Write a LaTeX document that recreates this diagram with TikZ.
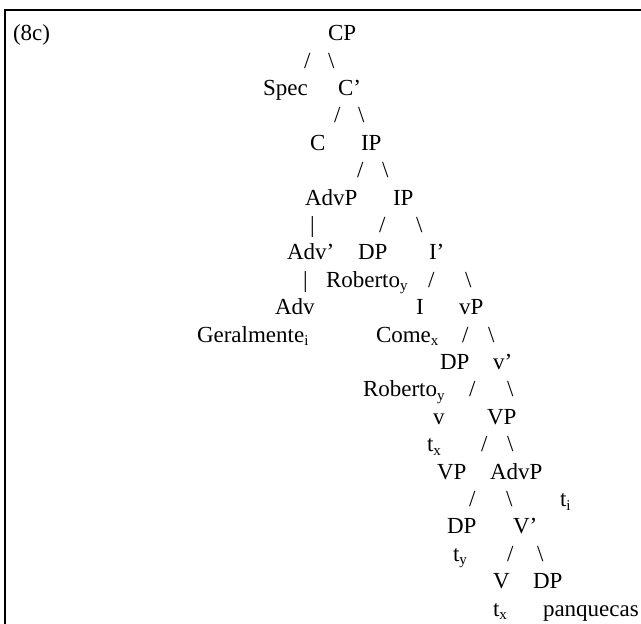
\documentclass[tikz,border=0pt]{standalone}
\usepackage{fontspec}
\setmainfont{Liberation Serif}
\newcommand{\sbs}[1]{\raisebox{-3.5pt}{\fontsize{15}{15}\selectfont #1}}
\begin{document}
\begin{tikzpicture}[x=1pt,y=-1pt,
  t/.style={anchor=base west, inner sep=0pt, outer sep=0pt, font=\fontsize{23}{27.4}\selectfont},
  frame/.style={line width=2pt, line join=miter}]
\useasboundingbox (0,0) rectangle (641,624);
\coordinate (fb) at (5,624);
\coordinate (fc) at (5,10);
\coordinate (fr) at (641,10);
\draw[frame] (fb) -- (fc) -- (fr);
% row 1
\node[t] (lab) at (13,40.7) {(8c)};
\node[t] (cp) at (328,40.7) {CP};
% row 2
\node[t] (s2a) at (304,68.1) {/};
\node[t] (s2b) at (328,68.1) {\textbackslash};
% row 3
\node[t] (spec) at (263,95.5) {Spec};
\node[t] (cbar) at (338,95.5) {C’};
% row 4
\node[t] (s4a) at (334,122.9) {/};
\node[t] (s4b) at (358,122.9) {\textbackslash};
% row 5
\node[t] (c) at (310,150.3) {C};
\node[t] (ip1) at (361,150.3) {IP};
% row 6
\node[t] (s6a) at (357,177.7) {/};
\node[t] (s6b) at (382,177.7) {\textbackslash};
% row 7
\node[t] (advp1) at (305,205.1) {AdvP};
\node[t] (ip2) at (393,205.1) {IP};
% row 8
\node[t] (b8) at (310,232.5) {\textbar};
\node[t] (s8a) at (379,232.5) {/};
\node[t] (s8b) at (416,232.5) {\textbackslash};
% row 9
\node[t] (advbar) at (287,259.9) {Adv’};
\node[t] (dp1) at (358,259.9) {DP};
\node[t] (ibar) at (429,259.9) {I’};
% row 10
\node[t] (b10) at (303,287.3) {\textbar};
\node[t] (rob1) at (326,287.3) {Roberto\sbs{y}};
\node[t] (s10a) at (428,287.3) {/};
\node[t] (s10b) at (465,287.3) {\textbackslash};
% row 11
\node[t] (adv) at (275,314.7) {Adv};
\node[t] (i) at (416,314.7) {I};
\node[t] (vp1) at (459,314.7) {vP};
% row 12
\node[t] (geral) at (197,342.1) {Geralmente\sbs{i}};
\node[t] (come) at (376,342.1) {Come\sbs{x}};
\node[t] (s12a) at (462,342.1) {/};
\node[t] (s12b) at (488,342.1) {\textbackslash};
% row 13
\node[t] (dp2) at (440,369.5) {DP};
\node[t] (vbar) at (493,369.5) {v’};
% row 14
\node[t] (rob2) at (363,396.9) {Roberto\sbs{y}};
\node[t] (s14a) at (469,396.9) {/};
\node[t] (s14b) at (507,396.9) {\textbackslash};
% row 15
\node[t] (v) at (433,424.3) {v};
\node[t] (VP1) at (487,424.3) {VP};
% row 16
\node[t] (tx1) at (427,451.7) {t\sbs{x}};
\node[t] (s16a) at (481,451.7) {/};
\node[t] (s16b) at (507,451.7) {\textbackslash};
% row 17
\node[t] (VP2) at (437,479.1) {VP};
\node[t] (advp2) at (490,479.1) {AdvP};
% row 18
\node[t] (s18a) at (469,506.5) {/};
\node[t] (s18b) at (506,506.5) {\textbackslash};
\node[t] (ti) at (560,506.5) {t\sbs{i}};
% row 19
\node[t] (dp3) at (447,533.9) {DP};
\node[t] (Vbar) at (513,533.9) {V’};
% row 20
\node[t] (ty) at (453,561.3) {t\sbs{y}};
\node[t] (s20a) at (507,561.3) {/};
\node[t] (s20b) at (537,561.3) {\textbackslash};
% row 21
\node[t] (V) at (493,588.7) {V};
\node[t] (dp4) at (533,588.7) {DP};
% row 22
\node[t] (tx2) at (493,616.1) {t\sbs{x}};
\node[t] (panq) at (543,616.1) {panquecas};
\end{tikzpicture}
\end{document}
